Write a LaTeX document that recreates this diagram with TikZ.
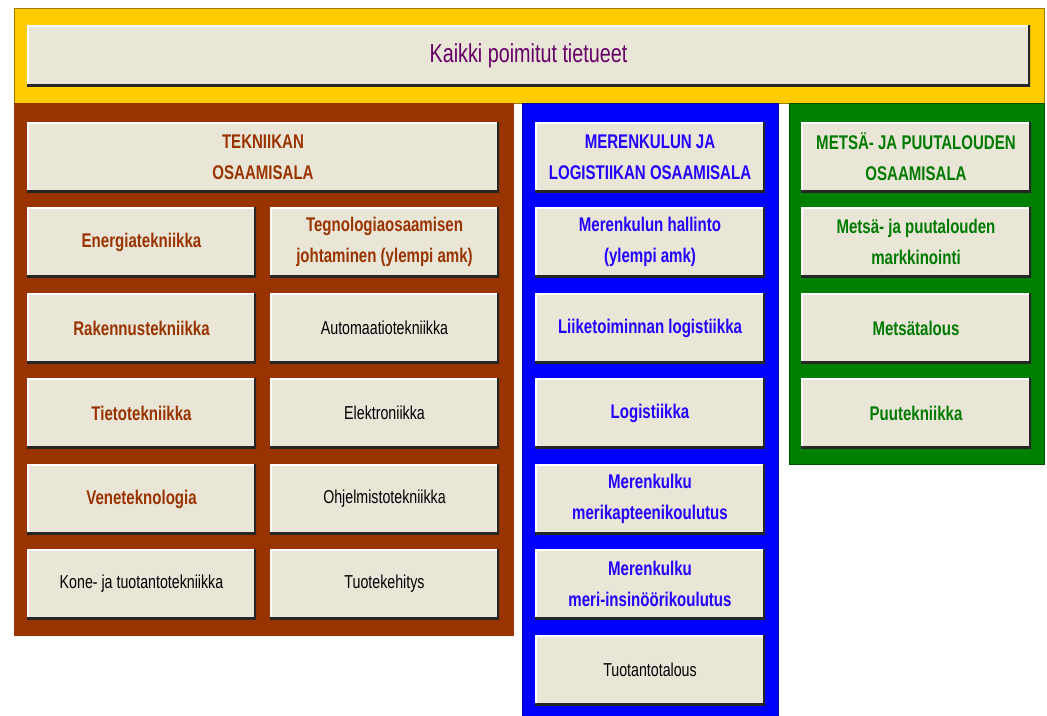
\documentclass[tikz,border=0pt]{standalone}
\usepackage{fontspec}
\setmainfont[FakeStretch=0.76]{Liberation Sans}
\definecolor{yel}{HTML}{FFCC00}
\definecolor{brn}{HTML}{993300}
\definecolor{blu}{HTML}{0000FF}
\definecolor{grn}{HTML}{008000}
\definecolor{boxfill}{HTML}{EAE6D7}
\definecolor{topc}{HTML}{660066}
\definecolor{bluetxt}{HTML}{2200FF}
\definecolor{grntxt}{HTML}{007A00}
\tikzset{
  panel/.style={draw=#1!60!black, line width=0.8pt, fill=#1},
  cell/.style={fill=boxfill, inner sep=0pt, align=center, minimum height=70pt,
    path picture={
      \draw[white,line width=3pt] (path picture bounding box.south west) -- (path picture bounding box.north west) -- (path picture bounding box.north east);
      \draw[black!85,line width=4.5pt] (path picture bounding box.south west) -- (path picture bounding box.south east) -- (path picture bounding box.north east);
    }},
  lcol/.style={cell, minimum width=229pt},
  bcol/.style={cell, minimum width=230pt},
  bold/.style={font=\bfseries\fontsize{19.8}{31}\selectfont},
  reg/.style={font=\fontsize{18.7}{30}\selectfont, text=black},
  brt/.style={bold, text=brn},
  blt/.style={bold, text=bluetxt},
  grt/.style={bold, text=grntxt},
}
\begin{document}
\begin{tikzpicture}[x=1pt,y=-1pt]
\useasboundingbox (0,0) rectangle (1047,715);
% panels
\draw[panel=yel] (14,8) rectangle (1044,103);
\fill[brn] (14,103) rectangle (514,636);
\draw[panel=blu] (522,103) rectangle (778,716);
\draw[panel=grn] (789,103) rectangle (1044,464);
% top
\node[cell, minimum width=1003pt, minimum height=61pt, font=\fontsize{26}{30}\selectfont, text=topc] (all) at (528.5,55.5) {Kaikki poimitut tietueet};
% brown column
\node[cell, minimum width=472pt, brt] (tek) at (263,157) {TEKNIIKAN\\OSAAMISALA};
\node[lcol, brt] (t1) at (141.5,242) {Energiatekniikka};
\node[lcol, brt] (t2) at (384.5,242) {Tegnologiaosaamisen\\johtaminen (ylempi amk)};
\node[lcol, brt] (t3) at (141.5,328) {Rakennustekniikka};
\node[lcol, reg] (t4) at (384.5,328) {Automaatiotekniikka};
\node[lcol, brt] (t5) at (141.5,413) {Tietotekniikka};
\node[lcol, reg] (t6) at (384.5,413) {Elektroniikka};
\node[lcol, brt] (t7) at (141.5,499) {Veneteknologia};
\node[lcol, reg] (t8) at (384.5,499) {Ohjelmistotekniikka};
\node[lcol, reg] (t9) at (141.5,584) {Kone- ja tuotantotekniikka};
\node[lcol, reg] (t10) at (384.5,584) {Tuotekehitys};
% blue column
\node[bcol, blt] (mer) at (650,157) {MERENKULUN JA\\LOGISTIIKAN OSAAMISALA};
\node[bcol, blt] (m1) at (650,242) {Merenkulun hallinto\\(ylempi amk)};
\node[bcol, blt] (m2) at (650,328) {Liiketoiminnan logistiikka};
\node[bcol, blt] (m3) at (650,413) {Logistiikka};
\node[bcol, blt] (m4) at (650,499) {Merenkulku\\merikapteenikoulutus};
\node[bcol, blt] (m5) at (650,584) {Merenkulku\\meri-insinöörikoulutus};
\node[bcol, reg] (m6) at (650,670) {Tuotantotalous};
% green column
\node[bcol, grt] (met) at (916,157) {METSÄ- JA PUUTALOUDEN\\OSAAMISALA};
\node[bcol, grt] (g1) at (916,242) {Metsä- ja puutalouden\\markkinointi};
\node[bcol, grt] (g2) at (916,328) {Metsätalous};
\node[bcol, grt] (g3) at (916,413) {Puutekniikka};
\end{tikzpicture}
\end{document}
